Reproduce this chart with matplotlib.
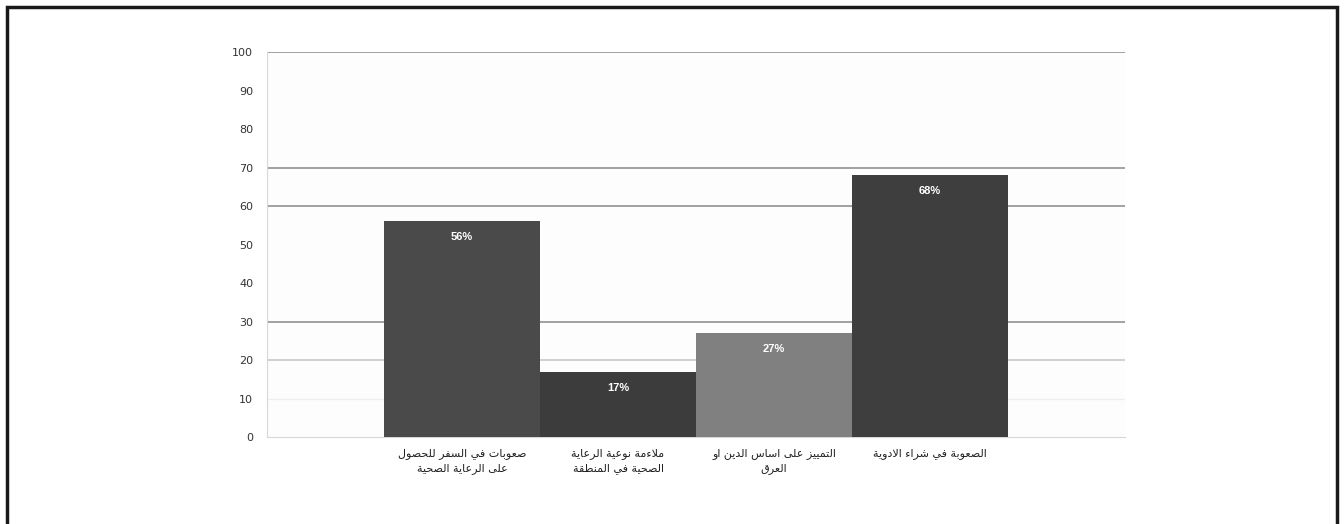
import numpy as np
import matplotlib.pyplot as plt
from matplotlib.patches import Rectangle

# data
categories = [
    'صعوبات في السفر للحصول\nعلى الرعاية الصحية',
    'ملاءمة نوعية الرعاية\nالصحية في المنطقة',
    'التمييز على اساس الدين او\nالعرق',
    'الصعوبة في شراء الادوية',
]
values = [56, 17, 27, 68]
value_labels = ['56%', '17%', '27%', '68%']
bar_colors = ['#4a4a4a', '#3c3c3c', '#808080', '#3e3e3e']
yticks = [0, 10, 20, 30, 40, 50, 60, 70, 80, 90, 100]

# matplotlib has no arabic shaping, so pick presentation forms by hand
FORMS = {'ء': (0xFE80, 1), 'آ': (0xFE81, 2), 'أ': (0xFE83, 2), 'ؤ': (0xFE85, 2),
         'إ': (0xFE87, 2), 'ئ': (0xFE89, 4), 'ا': (0xFE8D, 2), 'ب': (0xFE8F, 4),
         'ة': (0xFE93, 2), 'ت': (0xFE95, 4), 'ث': (0xFE99, 4), 'ج': (0xFE9D, 4),
         'ح': (0xFEA1, 4), 'خ': (0xFEA5, 4), 'د': (0xFEA9, 2), 'ذ': (0xFEAB, 2),
         'ر': (0xFEAD, 2), 'ز': (0xFEAF, 2), 'س': (0xFEB1, 4), 'ش': (0xFEB5, 4),
         'ص': (0xFEB9, 4), 'ض': (0xFEBD, 4), 'ط': (0xFEC1, 4), 'ظ': (0xFEC5, 4),
         'ع': (0xFEC9, 4), 'غ': (0xFECD, 4), 'ف': (0xFED1, 4), 'ق': (0xFED5, 4),
         'ك': (0xFED9, 4), 'ل': (0xFEDD, 4), 'م': (0xFEE1, 4), 'ن': (0xFEE5, 4),
         'ه': (0xFEE9, 4), 'و': (0xFEED, 2), 'ى': (0xFEEF, 2), 'ي': (0xFEF1, 4)}
LAM_ALEF = {'آ': 0xFEF5, 'أ': 0xFEF7, 'إ': 0xFEF9, 'ا': 0xFEFB}


def shape_line(s):
    toks = []
    i = 0
    while i < len(s):
        c = s[i]
        if c == 'ل' and i + 1 < len(s) and s[i + 1] in LAM_ALEF:
            toks.append((LAM_ALEF[s[i + 1]], 2))
            i += 2
            continue
        toks.append(FORMS.get(c, c))
        i += 1
    out = []
    for k, t in enumerate(toks):
        if isinstance(t, str):
            out.append(t)
            continue
        start, n = t
        prev = toks[k - 1] if k > 0 else None
        nxt = toks[k + 1] if k + 1 < len(toks) else None
        jp = isinstance(prev, tuple) and prev[1] == 4 and n >= 2
        jn = n == 4 and isinstance(nxt, tuple) and nxt[1] >= 2
        if jp and jn:
            f = 3
        elif jp:
            f = 1
        elif jn:
            f = 2
        else:
            f = 0
        out.append(chr(start + f))
    return ''.join(out)[::-1]


def shape(s):
    return '\n'.join(shape_line(l) for l in s.split('\n'))


plt.rcParams['font.family'] = ['Liberation Sans', 'DejaVu Sans']

fig = plt.figure(figsize=(13.44, 5.24), dpi=100)
ax = fig.add_axes([0.1987, 0.166, 0.6384, 0.7347])

x = np.arange(len(values))
ax.bar(x, values, width=1.0, color=bar_colors, zorder=3)

for xi, v, lab in zip(x, values, value_labels):
    ax.annotate(lab, (xi, v), xytext=(0, -11.5), textcoords='offset points',
                ha='center', va='center', color='white', fontsize=8,
                fontweight='bold', zorder=4)

for g in [30, 60, 70, 100]:
    ax.axhline(g, color='#9a9a9a', lw=1.3, zorder=1)
ax.axhline(20, color='#c4c4c4', lw=1.1, zorder=1)
ax.axhline(10, color='#efefef', lw=1.0, zorder=1)

ax.set_xlim(-1.25, 4.25)
ax.set_ylim(0, 100)
ax.set_yticks(yticks)
ax.set_yticklabels([str(t) for t in yticks], fontsize=8, color='#333333',
                   family=['DejaVu Sans'])
ax.tick_params(axis='y', length=0, pad=10)
ax.set_xticks(x)
ax.set_xticklabels([shape(c) for c in categories], fontsize=8, color='#222222',
                   family=['DejaVu Sans'], linespacing=1.5)
ax.tick_params(axis='x', length=0, pad=8)

for side in ['top', 'right']:
    ax.spines[side].set_visible(False)
ax.spines['left'].set_color('#d8d8d8')
ax.spines['bottom'].set_color('#d8d8d8')
ax.set_facecolor('#fdfdfd')

# frame around the picture (open at the bottom)
fig.patches.append(Rectangle((7 / 1344, -0.1), 1330 / 1344, 1.1 - 7 / 524,
                             transform=fig.transFigure, fill=False,
                             edgecolor='#1a1a1a', lw=2.5))

fig.savefig('out.png', dpi=100)
